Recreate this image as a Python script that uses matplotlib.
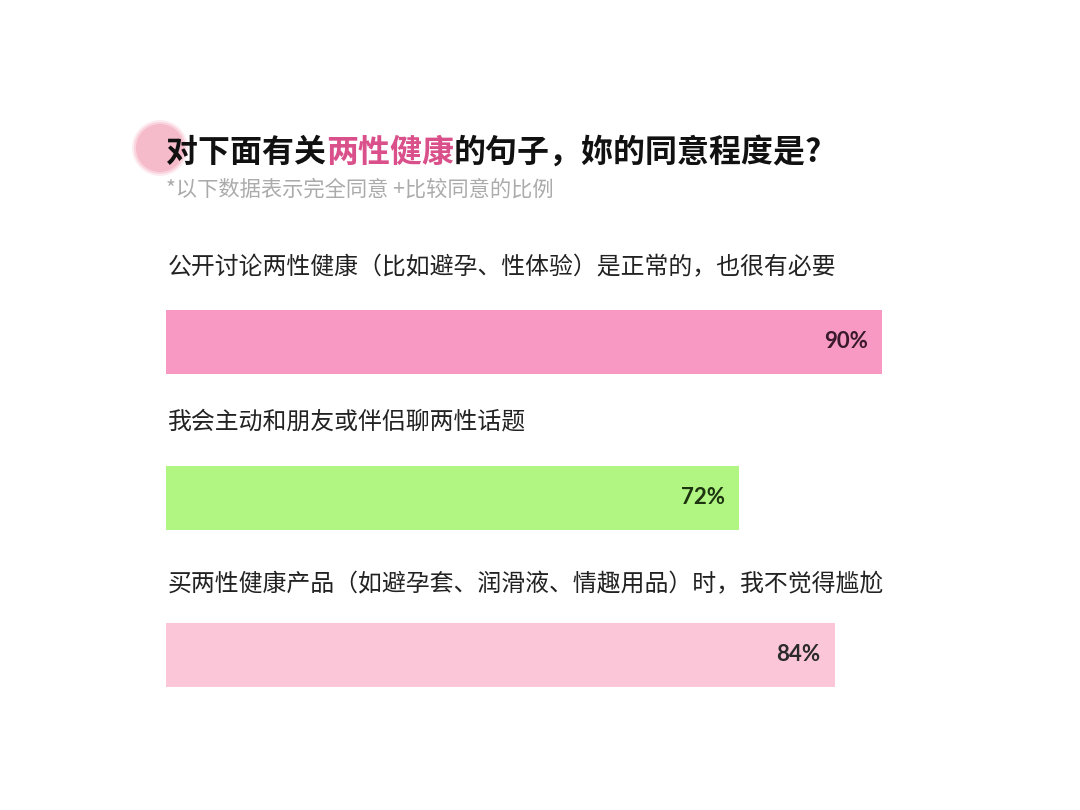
import matplotlib
matplotlib.use("Agg")
import matplotlib.pyplot as plt
from matplotlib.patches import Circle

plt.rcParams['font.family'] = ['Noto Sans CJK SC', 'DejaVu Sans']

title_parts = ["对下面有关", "两性健康", "的句子，妳的同意程度是?"]
title_colors = ["#111111", "#D9508A", "#111111"]
subtitle = "*以下数据表示完全同意 +比较同意的比例"
categories = [
    "公开讨论两性健康（比如避孕、性体验）是正常的，也很有必要",
    "我会主动和朋友或伴侣聊两性话题",
    "买两性健康产品（如避孕套、润滑液、情趣用品）时，我不觉得尴尬",
]
values = [90, 72, 84]
value_labels = ["90%", "72%", "84%"]
bar_colors = ["#F799C2", "#B1F683", "#FAC6D8"]
label_colors = ["#3A1A2A", "#1E3310", "#2A2A2A"]

W, H = 1080, 810
fig = plt.figure(figsize=(10.8, 8.1), dpi=100)
fig.patch.set_facecolor("white")

# overlay axes in pixel coords for decorations/text
bg = fig.add_axes([0, 0, 1, 1])
bg.set_xlim(0, W)
bg.set_ylim(H, 0)
bg.axis("off")

# decorative pink blob (soft edge)
for r, a in [(28, 0.25), (26, 0.45), (24, 0.8)]:
    bg.add_patch(Circle((160, 148), r, facecolor="#F6B5C7", edgecolor="none", alpha=a, zorder=1))

# title with mixed colors
t = bg.text(166, 153, title_parts[0], fontsize=23, fontweight="bold",
            color=title_colors[0], va="center", ha="left", zorder=3)
prev = t
for part, col in zip(title_parts[1:], title_colors[1:]):
    prev = bg.annotate(part, xy=(1, 0), xycoords=prev, va="bottom", ha="left",
                       fontsize=23, fontweight="bold", color=col, zorder=3)

bg.text(166, 190, subtitle, fontsize=15.3, color="#ABABAB", va="center", ha="left")

# bar axes: x spans 0..100 over pixels 166..962
ax = fig.add_axes([166 / W, 0, 796 / W, 1])
ax.set_xlim(0, 100)
ax.set_ylim(H, 0)
ax.axis("off")

bar_centers = [341.5, 497.5, 654.5]
label_y = [268, 422, 585]
ax.barh(bar_centers, values, height=64, color=bar_colors, edgecolor="none")

for i, (cat, v, lab) in enumerate(zip(categories, values, value_labels)):
    ax.text(0.2, label_y[i], cat, fontsize=17.2, color="#222222", va="center", ha="left")
    ax.annotate(lab, xy=(v, bar_centers[i]), xytext=(-14, 0), textcoords="offset pixels",
                ha="right", va="center", fontsize=16, fontweight="bold",
                color=label_colors[i], family=["Lato", "DejaVu Sans"])

fig.savefig("out.png", dpi=100, facecolor="white")
